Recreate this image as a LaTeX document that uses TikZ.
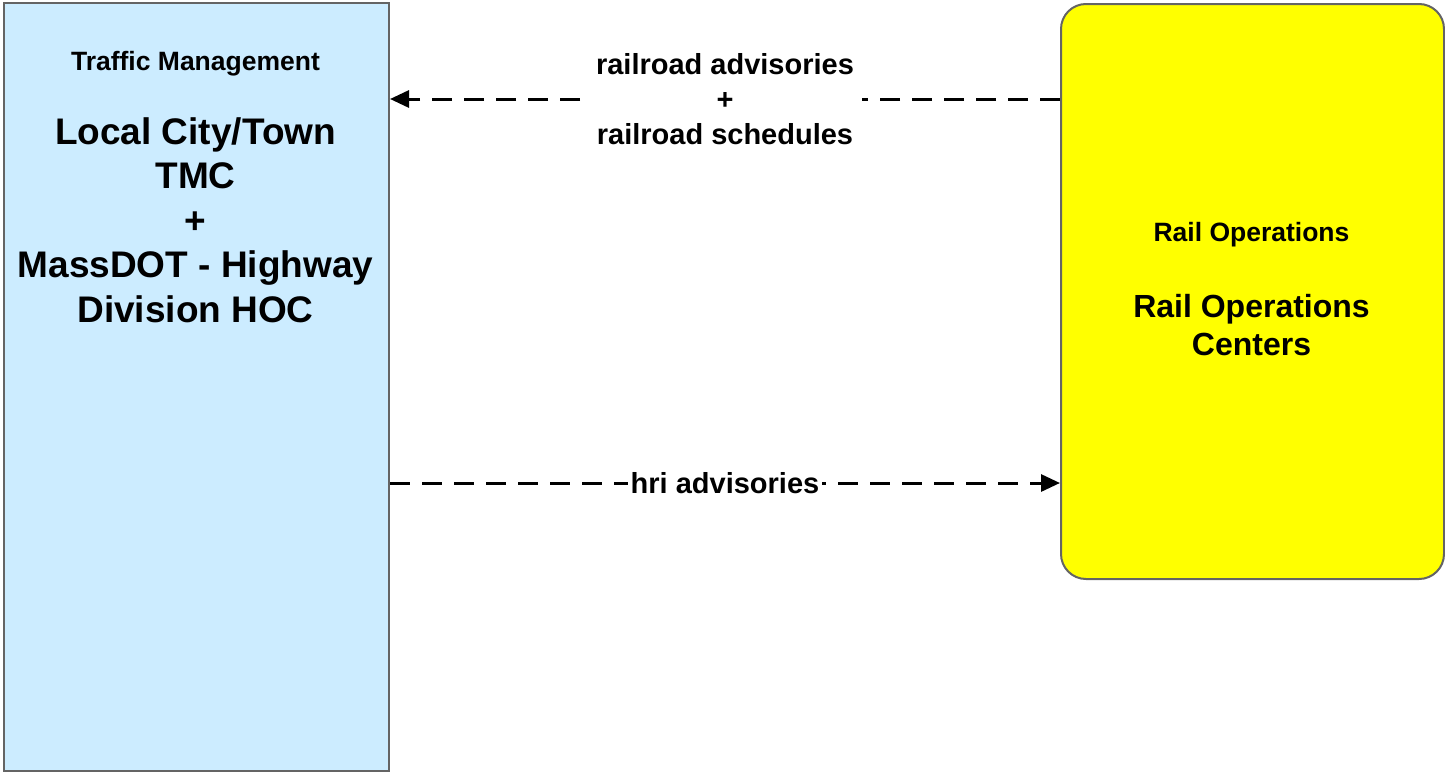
\documentclass[tikz,border=0pt]{standalone}
\usepackage{fontspec}
\setmainfont{Liberation Sans}
\usetikzlibrary{arrows.meta}
\definecolor{tmblue}{RGB}{204,236,255}
\definecolor{railyellow}{RGB}{255,255,0}
\definecolor{boxgray}{RGB}{100,100,100}
\tikzstyle{element}=[draw=boxgray, line width=2pt, inner sep=0pt, anchor=north west]
\tikzstyle{flow}=[line width=3pt, dash pattern=on 20pt off 12pt, -{Triangle[length=19pt,width=17pt]}]
\tikzstyle{flowlabel}=[fill=white, inner sep=3pt, align=center, font=\fontsize{29}{35}\selectfont\bfseries]
\tikzstyle{category}=[font=\fontsize{26.5}{32}\selectfont\bfseries]
\tikzstyle{tmtitle}=[align=center, font=\fontsize{37}{44.5}\selectfont\bfseries]
\tikzstyle{railtitle}=[align=center, font=\fontsize{32}{38}\selectfont\bfseries]

\begin{document}
\begin{tikzpicture}[x=1pt, y=-1pt]
  \useasboundingbox (0,0) rectangle (1445,771);
  \node[element, fill=tmblue, minimum width=385pt, minimum height=768pt] (tm) at (3,2) {};
  \node[element, fill=railyellow, rounded corners=25pt, minimum width=383pt, minimum height=575pt] (rail) at (1060,3) {};
  \node[category] (tmcat) at (195.5,64) {Traffic Management};
  \node[tmtitle] (tmname) at (195.5,220) {Local City/Town\\TMC\\+\\MassDOT - Highway\\Division HOC};
  \node[category] (railcat) at (1251.5,235) {Rail Operations};
  \node[railtitle] (railname) at (1251.5,325) {Rail Operations\\Centers};
  \path[flow] ([yshift=-96pt]rail.north west) edge node[flowlabel, inner xsep=8pt] {railroad advisories\\+\\railroad schedules} ([yshift=-97pt]tm.north east);
  \path[flow] ([yshift=-481pt]tm.north east) edge node[flowlabel] {hri advisories} ([yshift=-480pt]rail.north west);
\end{tikzpicture}
\end{document}
